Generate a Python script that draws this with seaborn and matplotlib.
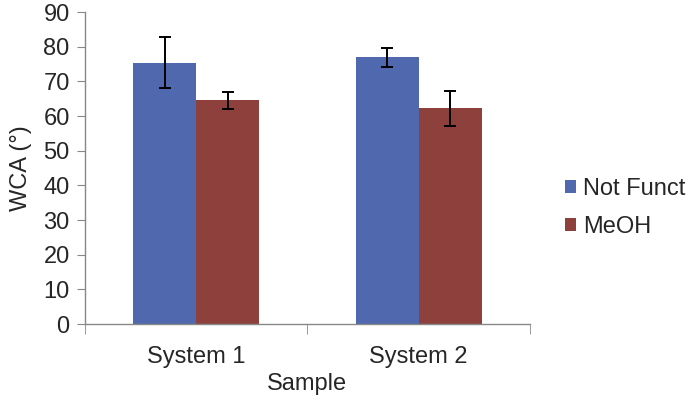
import pandas as pd
import matplotlib
matplotlib.use("Agg")
import matplotlib.pyplot as plt
from matplotlib.ticker import FixedLocator
import seaborn as sns

# Values
samples = ["System 1", "System 2"]
treatments = ["Not Funct", "MeOH"]
not_funct = [75.4, 76.9]
not_funct_err = [7.4, 2.85]
meoh = [64.5, 62.2]
meoh_err = [2.4, 5.1]

sns.set_style("white")
plt.rcParams['font.family'] = ['Liberation Sans', 'DejaVu Sans']

df = pd.DataFrame({
    'Sample': samples * 2,
    'Treatment': [treatments[0]] * 2 + [treatments[1]] * 2,
    'WCA': not_funct + meoh,
    'err': not_funct_err + meoh_err,
})

fig = plt.figure(figsize=(6.88, 4.01), dpi=100)
ax = fig.add_axes([0.1235, 0.192, 0.6465, 0.778])

palette = {"Not Funct": "#5068AE", "MeOH": "#8E403D"}
sns.barplot(data=df, x='Sample', y='WCA', hue='Treatment', palette=palette,
            width=0.566, errorbar=None, saturation=1, linewidth=0,
            ax=ax, legend=True)

# error bars on top of each bar, in the order seaborn drew them
for cont, tr in zip(ax.containers, treatments):
    sub = df[df['Treatment'] == tr]
    xs = [p.get_x() + p.get_width() / 2 for p in cont.patches]
    ax.errorbar(xs, sub['WCA'], yerr=sub['err'], fmt='none', ecolor='black',
                elinewidth=1.4, capsize=4, capthick=1.4)

fs = 17
ax.set_ylim(0, 90)
ax.set_xlim(-0.5, 1.5)
ax.set_yticks(range(0, 91, 10))
ax.set_ylabel('WCA (°)', fontsize=fs, labelpad=8)
ax.set_xlabel('Sample', fontsize=fs, labelpad=4)

for s in ['top', 'right']:
    ax.spines[s].set_visible(False)
for s in ['left', 'bottom']:
    ax.spines[s].set_color('#888888')
    ax.spines[s].set_linewidth(1.0)

ax.tick_params(axis='y', which='major', left=True, length=6, color='#888888',
               labelsize=fs, pad=5)
ax.tick_params(axis='x', which='major', bottom=False, labelsize=fs, pad=12)
ax.xaxis.set_minor_locator(FixedLocator([-0.5, 0.5, 1.5]))
ax.tick_params(axis='x', which='minor', bottom=True, length=7, color='#888888')

leg = ax.legend(loc='center left', bbox_to_anchor=(1.079, 0.372), frameon=False,
                fontsize=fs, handlelength=0.47, handleheight=0.47,
                handletextpad=0.3, labelspacing=0.7, borderpad=0,
                borderaxespad=0)

fig.savefig('out.png', dpi=100)
plt.close()
